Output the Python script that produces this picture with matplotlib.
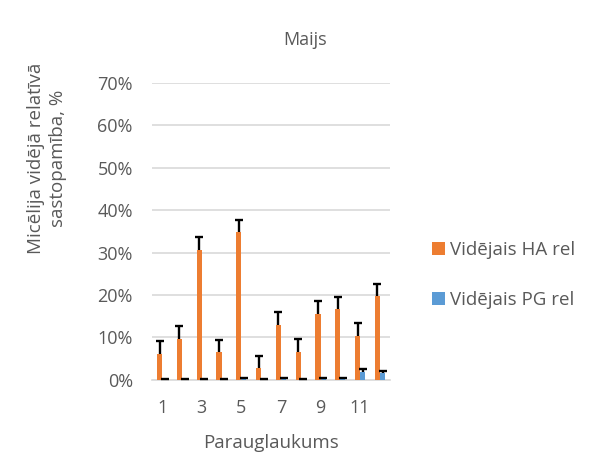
import numpy as np
import matplotlib.pyplot as plt
from matplotlib.ticker import PercentFormatter

plt.rcParams['font.family'] = ['Open Sans', 'DejaVu Sans']

plots = np.arange(1, 13)
ha_mean = [6.1, 9.7, 30.7, 6.5, 34.9, 2.7, 13.0, 6.6, 15.5, 16.8, 10.4, 19.7]
ha_err = [3.0, 2.9, 2.9, 2.9, 2.9, 3.0, 2.9, 3.0, 3.0, 2.7, 3.0, 3.0]
pg_mean = [0.05, 0.05, 0.05, 0.1, 0.1, 0.05, 0.15, 0.05, 0.1, 0.1, 1.9, 1.7]
pg_err = [0.2, 0.2, 0.2, 0.2, 0.4, 0.2, 0.4, 0.2, 0.4, 0.4, 0.6, 0.3]

text_color = '#595959'
fig = plt.figure(figsize=(5.97, 4.61), dpi=100)
ax = fig.add_axes([0.255, 0.176, 0.398, 0.644])


def bars_with_plus_err(x, mean, err, color, label):
    ax.bar(x, mean, 0.26, color=color, label=label, zorder=3)
    eb = ax.errorbar(x, mean, yerr=[np.zeros(len(err)), err], fmt='none',
                     ecolor='black', elinewidth=1.7, capsize=3, capthick=1.7,
                     zorder=4)
    # only the plus direction: hide the lower caps
    eb.lines[1][0].set_visible(False)


bars_with_plus_err(plots - 0.13, ha_mean, ha_err, '#ED7D31', 'Vidējais HA rel')
bars_with_plus_err(plots + 0.13, pg_mean, pg_err, '#5B9BD5', 'Vidējais PG rel')

ax.set_ylim(0, 70)
ax.set_xlim(0.5, 12.5)
ax.set_yticks(np.arange(0, 71, 10))
ax.yaxis.set_major_formatter(PercentFormatter(decimals=0))
ax.set_xticks(plots[::2])
ax.grid(axis='y', color='#D9D9D9', linewidth=1.2, zorder=0)
for s in ['top', 'right', 'left']:
    ax.spines[s].set_visible(False)
ax.spines['bottom'].set_color('#D9D9D9')
ax.spines['bottom'].set_linewidth(1.2)
ax.tick_params(length=0, labelsize=13, colors=text_color)
ax.tick_params(axis='y', pad=14)
ax.tick_params(axis='x', pad=14)

fig.text(305 / 597, 1 - 40 / 461, 'Maijs', fontsize=13, color=text_color,
         ha='center', va='center')
ax.set_xlabel('Parauglaukums', fontsize=13.5, color=text_color, labelpad=12)
fig.text(47 / 597, 1 - 158 / 461, 'Micēlija vidējā relatīvā\nsastopamība, %',
         fontsize=13.5, color=text_color, rotation=90, ha='center', va='center',
         multialignment='center', linespacing=1.3)

leg = fig.legend(loc='center left', bbox_to_anchor=(0.695, 0.403), frameon=False,
                 fontsize=13.5, labelspacing=1.7, handlelength=0.7, handleheight=0.7,
                 handletextpad=0.25)
for t in leg.get_texts():
    t.set_color(text_color)

fig.savefig('out.png', dpi=100)
